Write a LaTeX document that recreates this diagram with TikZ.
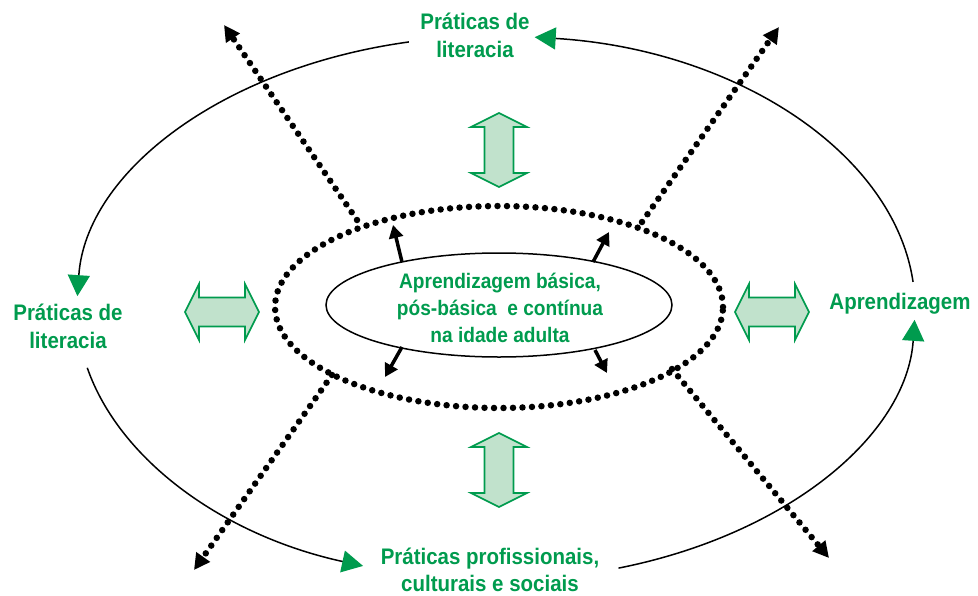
\documentclass[tikz,border=0pt]{standalone}
\usepackage{fontspec}
\setmainfont{Liberation Sans}[FakeStretch=0.91]
\usetikzlibrary{arrows.meta,shapes.geometric}
\definecolor{fgreen}{RGB}{0,155,78}
\definecolor{lgreen}{RGB}{193,226,204}
\tikzset{
  lbl/.style={text=fgreen, font=\bfseries\fontsize{22.5}{28}\selectfont, align=center, inner sep=0pt},
  inlbl/.style={text=fgreen, font=\bfseries\fontsize{21}{27}\selectfont, align=center, inner sep=0pt},
  outerarc/.style={line width=1.5pt, -{Triangle[length=21pt,width=22pt,color=fgreen]}},
  dotline/.style={line width=6.5pt, dash pattern=on 0pt off 9.5pt, line cap=round, -{Triangle[length=16pt,width=16pt]}},
  dotring/.style={draw, line width=6.5pt, dash pattern=on 0pt off 9.5pt, line cap=round},
  smallarr/.style={line width=3.5pt, -{Triangle[length=13pt,width=14pt]}},
  dblshape/.style={draw=fgreen, fill=lgreen, line width=1.6pt, line join=miter},
  pics/dblv/.style={code={\draw[dblshape] (0,-37) -- (28,-23) -- (14.5,-23) -- (14.5,23) -- (28,23) -- (0,37) -- (-28,23) -- (-14.5,23) -- (-14.5,-23) -- (-28,-23) -- cycle;}},
}
\begin{document}
\begin{tikzpicture}[x=1pt,y=-1pt]
\useasboundingbox (0,0) rectangle (978,595);

% labels
\node[lbl] (top) at (475,35) {Práticas de\\literacia};
\node[lbl] (left) at (68,326.5) {Práticas de\\literacia};
\node[lbl] (right) at (900,304) {Aprendizagem};
\node[lbl, font=\bfseries\fontsize{22.5}{27}\selectfont] (bottom) at (490,570) {Práticas profissionais,\\culturais e sociais};

% outer ellipse arcs
\coordinate (oc) at (496,308);
\draw[outerarc] ([shift={(-5.5:419 and 272)}]oc) arc[start angle=-5.5, end angle=-84.7, x radius=419, y radius=272];
\draw[outerarc] ([shift={(-102:419 and 272)}]oc) arc[start angle=-102, end angle=-177.5, x radius=419, y radius=272];
\draw[outerarc] ([shift={(-192.7:419 and 272)}]oc) arc[start angle=-192.7, end angle=-251.5, x radius=419, y radius=272];
\draw[outerarc] ([shift={(-287:419 and 272)}]oc) arc[start angle=-287, end angle=-357.5, x radius=419, y radius=272];

% dotted ring and inner ellipse
\node[ellipse, dotring, minimum width=448pt, minimum height=202pt, inner sep=0pt] (mid) at (499,307) {};
\node[ellipse, draw, line width=1.5pt, minimum width=346pt, minimum height=104pt, inner sep=0pt] (inner) at (499,305) {};
\node[inlbl] (innertext) at (500,307.5) {Aprendizagem básica,\\pós-básica~ e contínua\\na idade adulta};

% dotted diagonal arrows
\coordinate (d1s) at (357,220); \coordinate (d1e) at (224,25);
\coordinate (d2s) at (642,222); \coordinate (d2e) at (779,27);
\coordinate (d3s) at (332,375); \coordinate (d3e) at (194,570);
\coordinate (d4s) at (672,369); \coordinate (d4e) at (829,558);
\draw[dotline] (d1s) -- (d1e);
\draw[dotline] (d2s) -- (d2e);
\draw[dotline] (d3s) -- (d3e);
\draw[dotline] (d4s) -- (d4e);

% small black arrows
\coordinate (s1s) at (402,262); \coordinate (s1e) at (393,225);
\coordinate (s2s) at (593,262); \coordinate (s2e) at (609,232);
\coordinate (s3s) at (402,347); \coordinate (s3e) at (385,377);
\coordinate (s4s) at (595,350); \coordinate (s4e) at (607,373);
\draw[smallarr] (s1s) -- (s1e);
\draw[smallarr] (s2s) -- (s2e);
\draw[smallarr] (s3s) -- (s3e);
\draw[smallarr] (s4s) -- (s4e);

% double arrows
\pic (dtop) at (499,150) {dblv};
\pic (dbot) at (499,470) {dblv};
\pic[rotate=90] (dleft) at (222,312) {dblv};
\pic[rotate=90] (dright) at (772,312) {dblv};
\end{tikzpicture}
\end{document}
